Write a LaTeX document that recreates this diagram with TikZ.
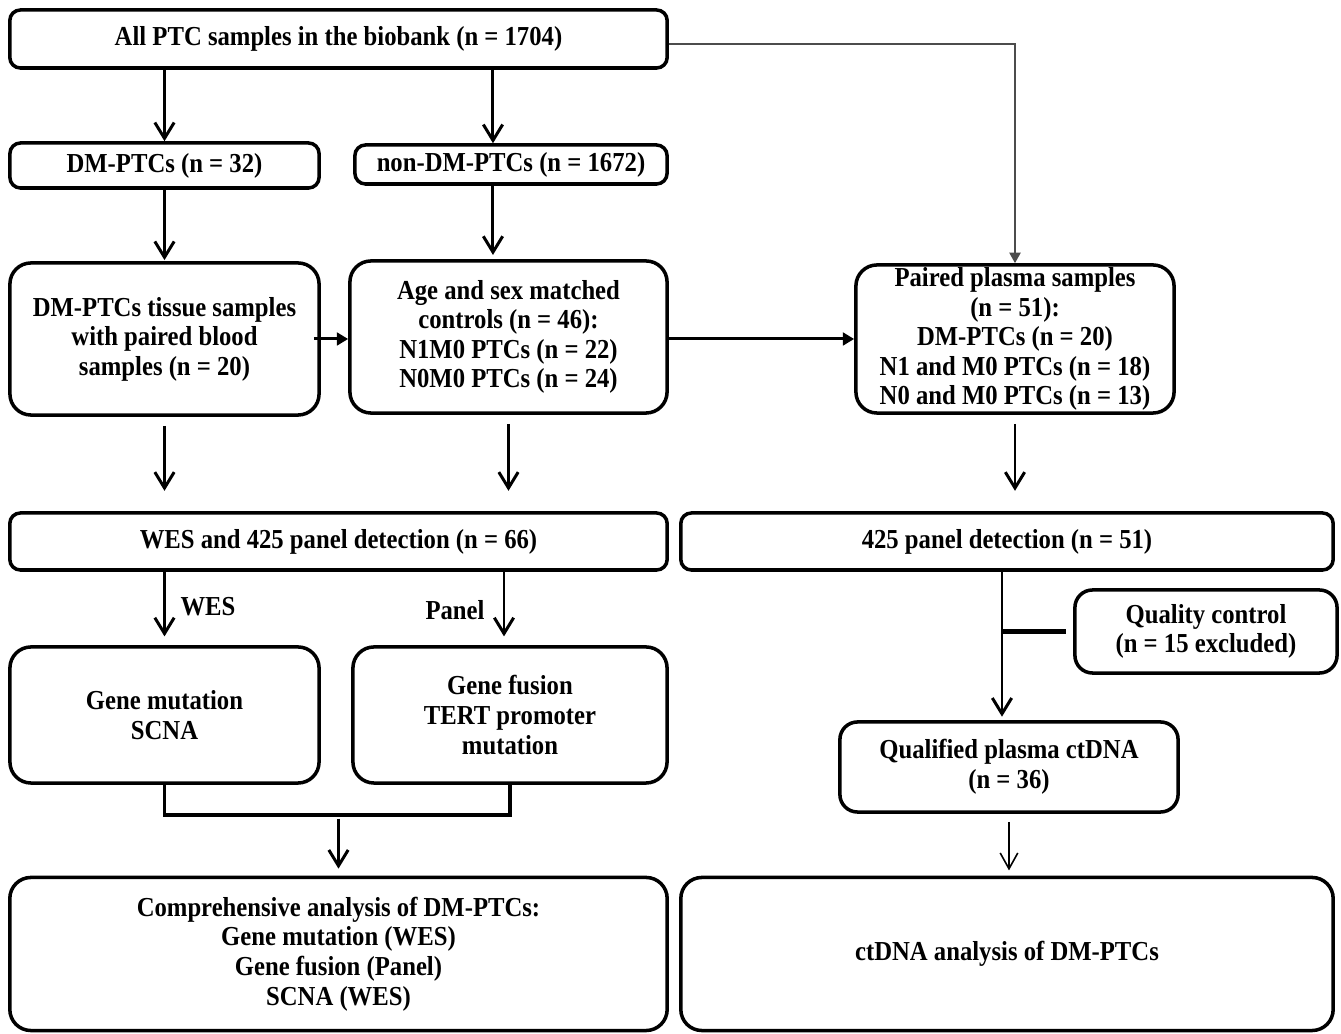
\documentclass[tikz,border=0pt]{standalone}
\usepackage{fontspec}
\setmainfont{Liberation Serif}[FakeStretch=0.9]
\usetikzlibrary{arrows.meta}

\begin{document}
\begin{tikzpicture}[x=0.01cm,y=-0.01cm,
  font=\fontsize{7.8}{8.4}\selectfont\bfseries,
  box/.style={draw,line width=1pt,rounded corners=3pt,inner sep=0pt,align=center},
  tall/.style={box,rounded corners=6pt},
  arr/.style={line width=0.85pt,-{Straight Barb[length=4.5pt,width=5.5pt]}},
  farr/.style={line width=0.85pt,-{Triangle[length=3.2pt,width=3.6pt]}},
  thinarr/.style={line width=0.45pt,-{Straight Barb[length=4.5pt,width=5pt]}},
  link/.style={line width=0.45pt,black!70,-{Triangle[length=3pt,width=3.2pt]}},
  gap/.style={shorten <=2.6pt,shorten >=5.8pt}]
\useasboundingbox (0,0) rectangle (1341,1034);
\node[box,minimum width=6.57cm,minimum height=0.58cm] (all) at (338.5,39) {All PTC samples in the biobank (n = 1704)};
\node[box,minimum width=3.09cm,minimum height=0.45cm] (dm) at (164.5,165.5) {DM-PTCs (n = 32)};
\node[box,minimum width=3.12cm,minimum height=0.39cm] (ndm) at (511,164.5) {non-DM-PTCs (n = 1672)};
\node[tall,minimum width=3.09cm,minimum height=1.52cm] (tissue) at (164.5,339) {DM-PTCs tissue samples\\with paired blood\\samples (n = 20)};
\node[tall,minimum width=3.17cm,minimum height=1.52cm] (ctrl) at (508.5,337) {Age and sex matched\\controls (n = 46):\\N1M0 PTCs (n = 22)\\N0M0 PTCs (n = 24)};
\node[tall,minimum width=3.18cm,minimum height=1.48cm] (plasma) at (1015,339) {Paired plasma samples\\(n = 51):\\DM-PTCs (n = 20)\\N1 and M0 PTCs (n = 18)\\N0 and M0 PTCs (n = 13)};
\node[box,minimum width=6.57cm,minimum height=0.57cm] (wes) at (338.5,541.5) {WES and 425 panel detection (n = 66)};
\node[box,minimum width=6.52cm,minimum height=0.57cm] (panel) at (1007,541.5) {425 panel detection (n = 51)};
\node[tall,minimum width=3.09cm,minimum height=1.36cm] (mut) at (164.5,715) {Gene mutation\\SCNA};
\node[tall,minimum width=3.14cm,minimum height=1.36cm] (fus) at (510,715) {Gene fusion\\TERT promoter\\mutation};
\node[box,rounded corners=5pt,minimum width=2.62cm,minimum height=0.83cm] (qc) at (1206,631.5) {Quality control\\(n = 15 excluded)};
\node[box,rounded corners=5pt,minimum width=3.38cm,minimum height=0.90cm] (qual) at (1009,767) {Qualified plasma ctDNA\\(n = 36)};
\node[tall,minimum width=6.57cm,minimum height=1.53cm] (comp) at (338.5,954) {Comprehensive analysis of DM-PTCs:\\Gene mutation (WES)\\Gene fusion (Panel)\\SCNA (WES)};
\node[tall,minimum width=6.52cm,minimum height=1.53cm] (ctana) at (1007,954) {ctDNA analysis of DM-PTCs};
\node (wesl) at (208,607) {WES};
\node (panl) at (455,610) {Panel};
\coordinate (tap) at ([xshift=-0.07cm]qual.north);
\coordinate (join) at (338.5,815);
\draw[arr] (dm.north |- all.south) -- (dm.north);
\draw[arr] ([xshift=-0.18cm]ndm.north |- all.south) -- ([xshift=-0.18cm]ndm.north);
\draw[arr,shorten >=0.3pt] (dm.south) -- (tissue.north);
\draw[arr,shorten >=1.2pt] ([xshift=-0.18cm]ndm.south) -- ([xshift=-0.18cm]ndm.south |- ctrl.north);
\draw[farr] ([xshift=-0.07cm]tissue.east) -- (tissue.east -| ctrl.west);
\draw[farr] (ctrl.east |- plasma.west) -- (plasma.west);
\draw[link] ([yshift=-0.05cm]all.east) -| (plasma.north);
\draw[arr,gap] (tissue.south) -- (tissue.south |- wes.north);
\draw[arr,gap] (ctrl.south) -- (ctrl.south |- wes.north);
\draw[arr,gap] (plasma.south) -- (plasma.south |- panel.north);
\draw[arr,shorten >=2.5pt] (wes.south -| mut.north) -- (mut.north);
\draw[arr,shorten >=2.5pt] ([xshift=-0.06cm]wes.south -| fus.north) -- ([xshift=-0.06cm]fus.north);
\draw[line width=1pt] (mut.south) -- (mut.south |- join) -| (fus.south);
\draw[arr,shorten <=1pt,shorten >=2pt] (join) -- (comp.north);
\draw[arr,shorten >=1pt] (tap |- panel.south) -- (tap);
\draw[line width=1.2pt,shorten >=2pt] (tap |- qc.west) -- (qc.west);
\draw[thinarr,shorten <=2.3pt,shorten >=1.5pt] (qual.south) -- (qual.south |- ctana.north);
\end{tikzpicture}
\end{document}
